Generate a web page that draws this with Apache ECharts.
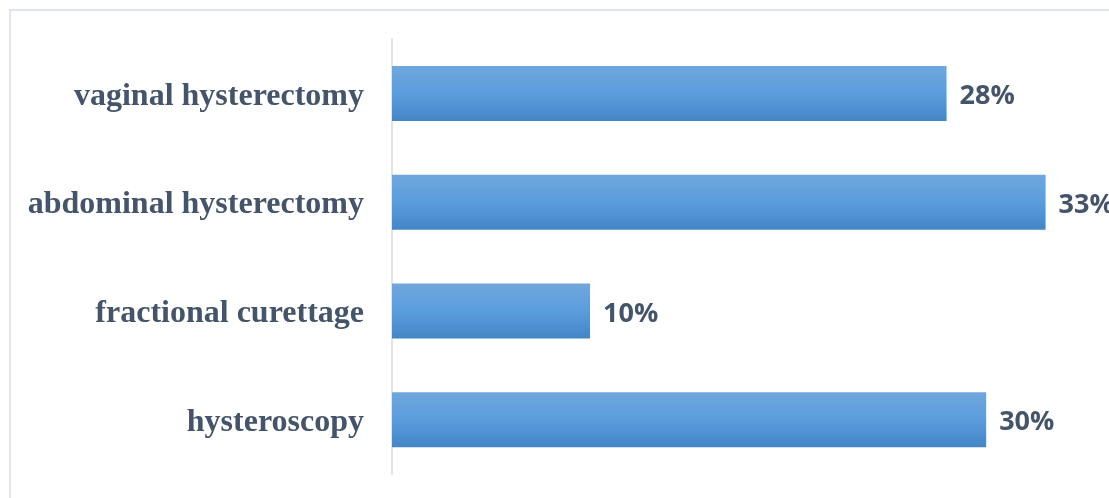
<!DOCTYPE html>
<html>
<head>
<meta charset="utf-8">
<script src="https://cdn.jsdelivr.net/npm/echarts@6/dist/echarts.min.js"></script>
<style>
  html, body { margin: 0; padding: 0; background: #fff; }
  #chart { width: 1109px; height: 498px; }
</style>
</head>
<body>
<div id="chart"></div>
<script>
// Procedures, listed bottom to top as the category axis draws them
const categories = ['hysteroscopy', 'fractional curettage', 'abdominal hysterectomy', 'vaginal hysterectomy'];
const shares = [30, 10, 33, 28];

const chart = echarts.init(document.getElementById('chart'));

const labelText = {
  color: '#44546a',
  fontFamily: '"Liberation Serif", "Times New Roman", serif',
  fontWeight: 'bold',
  fontSize: 32
};

chart.setOption({
  backgroundColor: '#ffffff',
  animation: false,
  graphic: [{
    type: 'rect',
    shape: { x: 10, y: 10, width: 1200, height: 600 },
    style: { fill: 'none', stroke: '#dfe3ea', lineWidth: 2 },
    silent: true
  }],
  grid: { left: 392, right: 4, top: 39, bottom: 24, containLabel: false },
  xAxis: {
    type: 'value',
    min: 0,
    max: 36,
    show: false
  },
  yAxis: {
    type: 'category',
    data: categories,
    axisLine: { show: true, lineStyle: { color: '#dfe3ea', width: 2 } },
    axisTick: { show: false },
    axisLabel: Object.assign({
      margin: 28,
      formatter: '{t|{value}}',
      rich: { t: Object.assign({ padding: [6, 0, 0, 0] }, labelText) }
    }, labelText)
  },
  series: [{
    type: 'bar',
    data: shares,
    barWidth: 55,
    itemStyle: {
      color: new echarts.graphic.LinearGradient(0, 0, 0, 1, [
        { offset: 0, color: '#70a7dd' },
        { offset: 0.5, color: '#5a9ddd' },
        { offset: 1, color: '#4485c6' }
      ])
    },
    label: {
      show: true,
      position: 'right',
      distance: 13,
      offset: [0, 3],
      formatter: '{c}%',
      color: '#44546a',
      fontFamily: '"Open Sans", Lato, sans-serif',
      fontWeight: 'bold',
      fontSize: 27
    }
  }]
});
</script>
</body>
</html>
